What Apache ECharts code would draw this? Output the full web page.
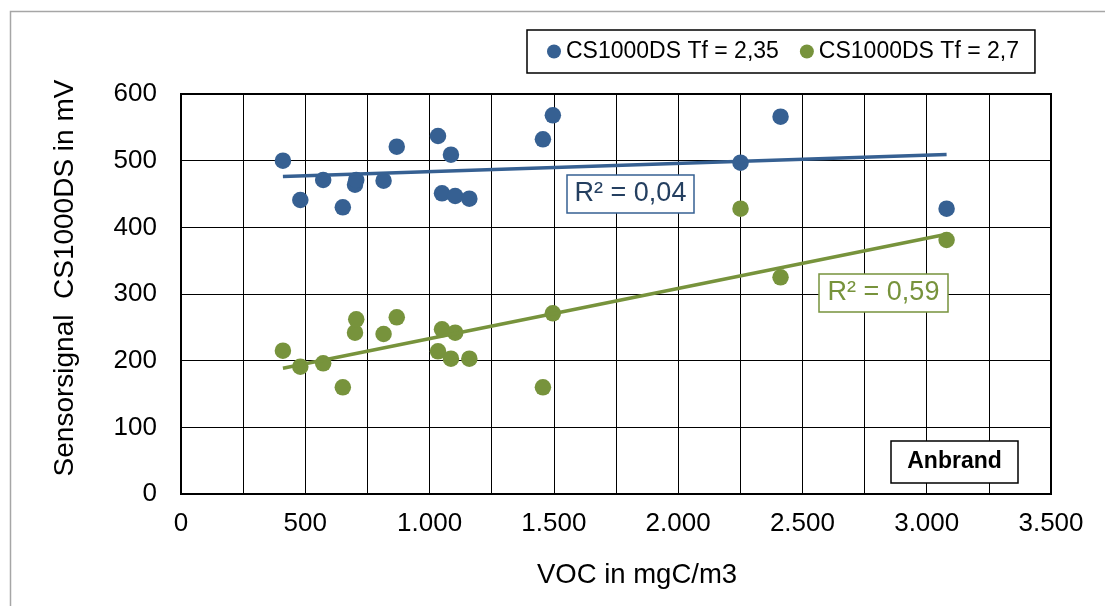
<!DOCTYPE html>
<html><head><meta charset="utf-8">
<script src="https://cdn.jsdelivr.net/npm/echarts@6/dist/echarts.min.js"></script>
<style>html,body{margin:0;padding:0;background:#fff}#c{width:1105px;height:606px}</style>
</head><body><div id="c"></div>
<script>
// ---- data ----
const seriesNames = ['CS1000DS Tf = 2,35', 'CS1000DS Tf = 2,7'];
const vocX = [410, 480, 572, 651, 700, 705, 815, 868, 1034, 1050, 1086, 1103, 1160, 1456, 1496, 2251, 2412, 3080];
const signalTf235 = [500, 441, 471, 430, 464, 471, 470, 521, 537, 451, 509, 447, 443, 532, 568, 497, 566, 428];
const signalTf27 = [215, 191, 196, 160, 242, 262, 240, 265, 214, 247, 203, 242, 203, 160, 271, 428, 325, 381];
const xTickLabels = ['0', '500', '1.000', '1.500', '2.000', '2.500', '3.000', '3.500'];
const yTickLabels = ['0', '100', '200', '300', '400', '500', '600'];
const r2Labels = ['R² = 0,04', 'R² = 0,59'];
const annotationText = 'Anbrand';
const xAxisTitle = 'VOC in mgC/m3';
const yAxisTitle = 'Sensorsignal  CS1000DS in mV';

// ---- helpers ----
const FONT = '"Liberation Sans", Arial, sans-serif';
const BLUE = '#366092', GREEN = '#77933C';
function pairs(xs, ys) { return xs.map((x, i) => [x, ys[i]]); }
function trend(xs, ys) {
  const n = xs.length;
  const mx = xs.reduce((a, b) => a + b, 0) / n;
  const my = ys.reduce((a, b) => a + b, 0) / n;
  let sxy = 0, sxx = 0;
  for (let i = 0; i < n; i++) { sxy += (xs[i] - mx) * (ys[i] - my); sxx += (xs[i] - mx) ** 2; }
  const b = sxy / sxx, a = my - b * mx;
  const x0 = Math.min(...xs), x1 = Math.max(...xs);
  return [[x0, a + b * x0], [x1, a + b * x1]];
}
function box(left, top, w, h, text, stroke, fill, font) {
  return [
    { type: 'rect', z: 60, silent: true, shape: { x: left, y: top, width: w, height: h }, style: { fill: '#fff', stroke: stroke, lineWidth: 1.5 } },
    { type: 'text', z: 61, silent: true, x: left + w / 2, y: top + h / 2, style: { text: text, font: font, fill: fill, textAlign: 'center', textVerticalAlign: 'middle', align: 'center', verticalAlign: 'middle' } }
  ];
}

const chart = echarts.init(document.getElementById('c'), null, { renderer: 'canvas' });
chart.setOption({
  backgroundColor: '#fff',
  animation: false,
  textStyle: { fontFamily: FONT },
  grid: { left: 181, right: 54, top: 94, bottom: 112, show: true, borderColor: '#000', borderWidth: 2, backgroundColor: 'transparent' },
  legend: {
    data: seriesNames,
    left: 527, top: 30,
    padding: [10, 16, 10, 20],
    itemGap: 21,
    itemWidth: 14, itemHeight: 14,
    icon: 'circle',
    borderColor: '#000', borderWidth: 1.5,
    textStyle: { fontSize: 23, color: '#000', fontFamily: FONT }
  },
  xAxis: {
    type: 'value', min: 0, max: 3500, interval: 500,
    axisLine: { show: true, lineStyle: { color: '#000', width: 2 } },
    axisTick: { show: false },
    minorTick: { show: false, splitNumber: 2 },
    splitLine: { show: true, lineStyle: { color: '#000', width: 1 } },
    minorSplitLine: { show: true, lineStyle: { color: '#000', width: 1 } },
    axisLabel: { formatter: v => xTickLabels[Math.round(v / 500)], fontSize: 26, color: '#000', margin: 17, fontFamily: FONT },
    name: xAxisTitle, nameLocation: 'middle', nameGap: 67,
    nameTextStyle: { fontSize: 27.5, color: '#000', fontFamily: FONT, padding: [0, 0, 0, 42] }
  },
  yAxis: {
    type: 'value', min: 0, max: 600, interval: 100,
    axisLine: { show: true, lineStyle: { color: '#000', width: 2 } },
    axisTick: { show: false },
    splitLine: { show: true, lineStyle: { color: '#000', width: 1 } },
    axisLabel: { formatter: v => yTickLabels[Math.round(v / 100)], fontSize: 26, color: '#000', margin: 24, fontFamily: FONT },
    name: yAxisTitle, nameLocation: 'middle', nameGap: 102,
    nameTextStyle: { fontSize: 28, color: '#000', fontFamily: FONT, padding: [0, 0, 0, 32] }
  },
  series: [
    { name: seriesNames[0], type: 'scatter', data: pairs(vocX, signalTf235), symbolSize: 16.5, itemStyle: { color: BLUE, opacity: 1 }, z: 3 },
    { name: seriesNames[1], type: 'scatter', data: pairs(vocX, signalTf27), symbolSize: 16.5, itemStyle: { color: GREEN, opacity: 1 }, z: 3 },
    { name: 'trend1', type: 'line', data: trend(vocX, signalTf235), showSymbol: false, symbol: 'none', lineStyle: { color: BLUE, width: 3.5 }, z: 4, silent: true },
    { name: 'trend2', type: 'line', data: trend(vocX, signalTf27), showSymbol: false, symbol: 'none', lineStyle: { color: GREEN, width: 3.5 }, z: 4, silent: true }
  ],
  graphic: [
    { type: 'rect', silent: true, z: -10, shape: { x: 10.5, y: 11.5, width: 1110, height: 620 }, style: { fill: 'none', stroke: '#A6A6A6', lineWidth: 1.5 } },
    ...box(567, 175, 127, 38, r2Labels[0], BLUE, '#243F60', '27px ' + FONT),
    ...box(819, 274, 129, 38, r2Labels[1], GREEN, GREEN, '27px ' + FONT),
    ...box(891, 441, 127, 42, annotationText, '#000', '#000', 'bold 23px ' + FONT)
  ]
});
</script>
</body></html>
